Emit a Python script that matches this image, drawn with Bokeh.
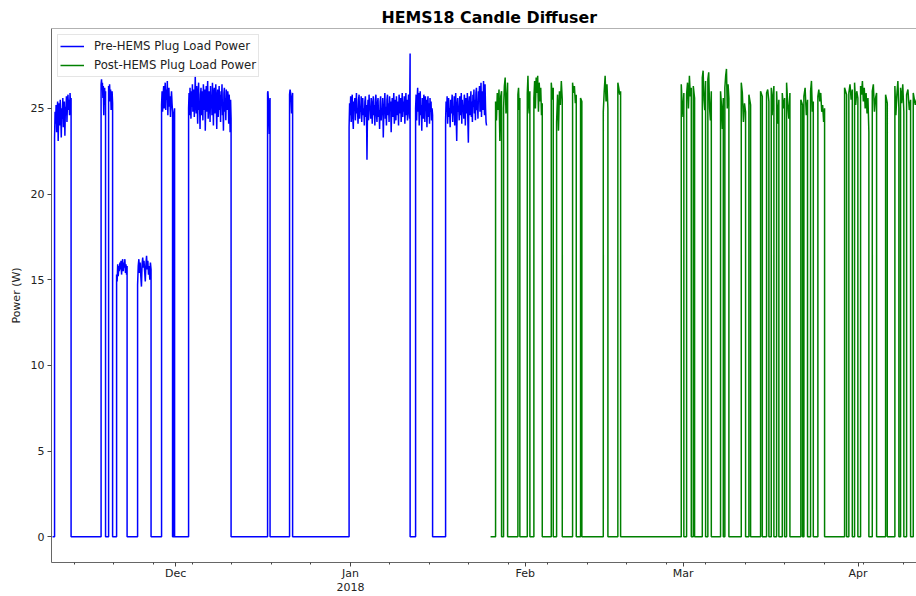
import pandas as pd
from bokeh.plotting import figure
from bokeh.models import FixedTicker, Range1d, Span
from bokeh.embed import file_html
from bokeh.resources import INLINE

# ---------------- data ----------------
pre_series_start = "2017-11-09 04:30"
pre_on_start = ["2017-11-09 13:00", "2017-11-17 19:00", "2017-11-19 03:00", "2017-11-20 13:00",
                "2017-11-24 06:20", "2017-11-28 12:20", "2017-11-30 15:30", "2017-12-03 07:20",
                "2017-12-17 07:30", "2017-12-21 05:00", "2017-12-31 18:20", "2018-01-12 13:20",
                "2018-01-17 21:00"]
pre_on_end = ["2017-11-12 11:20", "2017-11-18 14:00", "2017-11-19 20:00", "2017-11-22 09:40",
              "2017-11-26 15:40", "2017-11-30 11:10", "2017-11-30 19:45", "2017-12-10 20:10",
              "2017-12-17 18:00", "2017-12-21 18:00", "2018-01-11 14:00", "2018-01-15 13:40",
              "2018-01-25 03:20"]
pre_values = [
    [23.3, 24.8, 24.1, 25.2, 23.6, 24.9, 25.4, 23.1, 24.5, 25.3, 24.0, 25.5, 24.7, 23.3, 25.0,
     24.4, 25.6, 23.9, 24.8, 25.4, 23.4, 25.1, 24.6, 25.7, 24.2, 25.3, 25.8, 24.9, 25.5, 24.6,
     25.9, 25.2, 25.6],
    [26.4, 26.7, 26.1, 26.5, 25.6, 26.3, 24.6, 25.9, 26.2, 25.2, 26.0],
    [26.3, 26.0, 26.4, 25.4, 26.1, 24.9, 25.8, 26.0, 25.3],
    [15.3, 14.9, 15.9, 15.2, 15.8, 15.5, 16.0, 15.6, 16.1, 15.3, 15.9, 16.2, 15.5, 16.0, 15.7,
     16.2, 15.4, 15.9, 15.3, 15.8],
    [14.7, 15.8, 16.2, 15.4, 16.0, 15.2, 14.6, 15.9, 16.3, 15.7, 16.1, 15.5, 14.9, 15.9, 16.4,
     15.6, 16.1, 15.3, 15.8, 15.0, 16.0, 15.6],
    [25.2, 26.0, 24.8, 25.7, 26.3, 25.0, 25.9, 26.5, 24.9, 26.1, 25.5, 26.6, 24.6, 25.8, 26.2,
     25.1, 25.7, 24.5, 25.4, 26.0, 25.3, 24.8],
    [24.5, 25.0],
    [25.0, 25.9, 24.6, 26.2, 25.3, 24.4, 26.0, 25.1, 26.4, 24.8, 25.7, 26.1, 24.5, 25.6, 26.9,
     25.2, 24.7, 26.3, 25.5, 24.1, 25.9, 26.5, 24.9, 25.4, 23.8, 25.8, 26.2, 24.6, 26.0, 25.3,
     24.3, 26.4, 25.7, 24.9, 26.1, 23.7, 25.5, 26.3, 24.8, 25.9, 26.6, 24.4, 25.2, 26.0, 25.6,
     24.2, 26.3, 25.0, 25.8, 24.6, 26.5, 25.4, 24.0, 25.9, 26.2, 24.7, 25.6, 26.4, 25.1, 23.8,
     25.7, 26.1, 24.5, 25.3, 26.3, 24.9, 25.8, 24.2, 26.0, 25.5, 26.4, 24.6, 25.2, 23.7, 25.9,
     26.2, 24.8, 25.6, 24.3, 26.1, 25.4, 24.9, 26.0, 25.7, 24.1, 25.8, 25.2, 23.6, 25.5, 24.4],
    [25.9, 26.0, 25.6, 25.3, 24.2, 23.5, 25.0, 25.6],
    [25.8, 26.1, 25.9, 25.4, 24.7, 25.6, 25.9],
    [23.9, 25.3, 24.6, 25.7, 24.2, 25.1, 25.8, 24.5, 23.8, 25.4, 24.9, 25.6, 24.3, 25.2, 25.9,
     24.7, 25.0, 24.1, 25.5, 25.8, 24.4, 25.1, 24.8, 25.7, 24.2, 25.3, 25.6, 24.6, 25.0, 24.0,
     25.4, 25.7, 24.5, 25.2, 22.0, 24.8, 25.5, 24.3, 25.8, 24.9, 25.1, 24.4, 25.6, 25.3, 24.1,
     25.0, 25.7, 24.6, 25.2, 24.0, 25.5, 25.8, 24.7, 24.2, 25.3, 25.6, 24.5, 24.9, 23.8, 25.4,
     25.7, 24.3, 25.0, 24.6, 25.6, 23.3, 24.8, 25.2, 25.9, 24.4, 25.1, 24.0, 25.5, 25.8, 24.6,
     25.3, 24.2, 25.7, 24.9, 25.4, 23.6, 25.0, 25.6, 24.5, 25.2, 25.9, 24.1, 24.8, 25.5, 24.3,
     25.7, 25.0, 24.6, 25.4, 24.0, 25.8, 25.3, 24.7, 25.6, 24.2, 25.1, 25.9, 24.5, 25.4, 24.8,
     25.7, 24.1, 25.2, 25.9, 24.6, 25.5, 24.3, 25.0, 25.8, 24.9, 24.4, 28.2],
    [25.0, 25.8, 24.3, 25.5, 26.2, 24.8, 25.9, 24.0, 25.4, 26.0, 24.6, 25.2, 23.7, 25.6, 25.0,
     24.4, 25.8, 25.3, 24.2, 25.7, 24.9, 25.5, 23.9, 25.1, 25.7, 24.5, 25.3, 24.1, 25.6, 24.8,
     25.4, 24.3, 25.0, 24.6],
    [24.3, 25.4, 24.8, 25.7, 24.1, 25.2, 25.6, 24.5, 25.0, 23.9, 25.5, 24.7, 25.3, 25.8, 24.2,
     25.1, 24.6, 25.7, 24.0, 25.4, 25.9, 24.4, 23.1, 25.2, 25.6, 24.8, 25.0, 24.3, 25.7, 25.3,
     24.6, 25.9, 24.1, 25.5, 24.9, 25.2, 24.4, 25.8, 25.4, 24.0, 25.6, 25.1, 24.7, 25.9, 24.3,
     23.0, 25.3, 25.7, 24.6, 25.0, 26.0, 24.5, 25.4, 24.2, 25.8, 25.1, 26.1, 24.7, 25.5, 24.3,
     25.9, 26.2, 24.9, 25.3, 24.4, 26.0, 25.6, 26.3, 24.8, 25.2, 26.5, 24.5, 25.7, 26.0, 24.9,
     26.6, 25.3, 24.6, 26.4, 25.0, 24.2, 24.0],
]

post_series_start = "2018-01-25 20:20"
post_on_start = ["2018-01-26 17:40", "2018-01-28 03:40", "2018-01-30 16:40", "2018-02-01 08:40",
                 "2018-02-02 12:40", "2018-02-05 14:40", "2018-02-06 13:20", "2018-02-09 09:20",
                 "2018-02-10 19:20", "2018-02-14 20:00", "2018-02-17 10:00", "2018-02-28 15:50",
                 "2018-03-01 14:30", "2018-03-02 19:00", "2018-03-04 09:20", "2018-03-05 09:00",
                 "2018-03-07 15:00", "2018-03-08 09:20", "2018-03-11 07:10", "2018-03-12 15:40",
                 "2018-03-14 17:20", "2018-03-15 18:50", "2018-03-16 14:50", "2018-03-17 13:30",
                 "2018-03-18 13:40", "2018-03-19 08:00", "2018-03-21 20:40", "2018-03-22 09:40",
                 "2018-03-23 14:00", "2018-03-24 21:10", "2018-03-29 14:50", "2018-03-30 09:00",
                 "2018-03-31 09:20", "2018-04-01 10:50", "2018-04-03 12:40", "2018-04-05 21:20",
                 "2018-04-07 12:50", "2018-04-08 13:00", "2018-04-09 14:40", "2018-04-10 19:00"]
post_on_end = ["2018-01-27 19:10", "2018-01-28 20:50", "2018-01-31 01:00", "2018-02-01 19:40",
               "2018-02-04 00:20", "2018-02-05 23:10", "2018-02-07 13:30", "2018-02-10 01:00",
               "2018-02-11 00:50", "2018-02-15 15:40", "2018-02-17 21:40", "2018-03-01 02:50",
               "2018-03-02 10:30", "2018-03-03 00:30", "2018-03-04 23:20", "2018-03-05 23:40",
               "2018-03-08 02:40", "2018-03-09 02:30", "2018-03-12 01:30", "2018-03-12 22:50",
               "2018-03-15 00:40", "2018-03-16 04:40", "2018-03-17 02:00", "2018-03-17 23:10",
               "2018-03-18 23:30", "2018-03-19 22:10", "2018-03-22 03:50", "2018-03-23 01:10",
               "2018-03-24 01:40", "2018-03-26 01:40", "2018-03-29 23:20", "2018-03-30 23:40",
               "2018-03-31 23:20", "2018-04-02 22:10", "2018-04-04 07:00", "2018-04-06 04:30",
               "2018-04-08 05:50", "2018-04-09 03:00", "2018-04-10 07:40", "2018-04-11 12:00"]
post_values = [
    [25.4, 24.3, 25.9, 24.9, 26.1, 23.1, 25.7, 26.0],
    [25.0, 26.3, 26.8, 24.7, 25.6, 26.5],
    [25.8, 26.2, 24.9, 25.6],
    [25.9, 26.9, 25.2, 24.7, 26.0],
    [25.6, 26.6, 25.0, 26.8, 25.9, 26.9, 24.8, 26.5, 25.4, 26.2, 24.6, 25.3],
    [26.5, 26.0, 25.5, 26.2],
    [24.2, 25.8, 23.7, 26.0, 25.2, 26.6, 25.5],
    [26.5, 25.9, 26.3, 25.3, 25.8],
    [25.6, 25.4],
    [24.8, 26.0, 26.9, 25.4, 26.4, 25.0],
    [26.5, 26.2, 25.8, 26.0],
    [26.4, 25.3, 24.5, 25.9],
    [25.8, 26.5, 25.0, 26.9, 25.7, 26.2],
    [26.3, 25.6],
    [26.8, 27.2, 25.5, 24.9, 26.6],
    [26.7, 27.1, 25.0, 24.3, 26.0],
    [26.0, 25.2, 23.8, 25.6],
    [26.2, 26.9, 27.3, 25.0, 26.4, 25.6],
    [26.5, 25.9, 24.2, 25.3, 24.8],
    [25.8, 25.2],
    [26.0, 25.7],
    [25.9, 26.1, 25.4],
    [26.2, 24.6, 25.8, 26.3],
    [26.0, 24.1, 25.5],
    [25.9, 25.0, 25.6],
    [26.5, 25.3, 24.4, 25.9],
    [25.5, 25.2],
    [25.7, 26.2, 24.6, 25.5],
    [26.0, 26.6, 24.8, 25.4],
    [25.7, 26.1, 25.4, 25.9, 24.8, 25.2, 24.2, 25.0],
    [26.2, 25.8],
    [25.9, 26.4, 25.5, 26.1],
    [26.5, 25.2, 26.0, 25.6],
    [26.3, 25.8, 26.6, 25.4, 26.2, 25.0, 25.9, 24.7, 25.6, 23.6],
    [26.0, 26.4, 24.8, 25.6, 25.9],
    [25.8, 25.3],
    [26.3, 24.6, 25.8, 26.6, 25.0],
    [26.2, 25.3, 26.4, 24.8],
    [25.8, 26.1, 24.9, 25.5],
    [25.9, 25.2, 25.7],
]

x_tick_dates = ["2017-12-01", "2018-01-01", "2018-02-01", "2018-03-01", "2018-04-01"]
x_tick_labels = ["Dec", "Jan\n2018", "Feb", "Mar", "Apr"]
y_ticks = [0, 5, 10, 15, 20, 25]
labels = ["Pre-HEMS Plug Load Power", "Post-HEMS Plug Load Power"]
colors = ["#0000ff", "#008000"]


def build(series_start, starts, ends, values, end_on):
    t = [pd.Timestamp(series_start)]
    v = [0.0]
    for s, e, vals in zip(starts, ends, values):
        ts, te = pd.Timestamp(s), pd.Timestamp(e)
        n = len(vals)
        t.append(ts)
        v.append(0.0)
        for i, val in enumerate(vals):
            t.append(ts + (te - ts) * i / (n - 1))
            v.append(val)
        t.append(te)
        v.append(0.0)
    if end_on:
        t.pop()
        v.pop()
    return t, v


pre_t, pre_v = build(pre_series_start, pre_on_start, pre_on_end, pre_values, True)
post_t, post_v = build(post_series_start, post_on_start, post_on_end, post_values, True)

FONT = "DejaVu Sans"
ms = lambda s: pd.Timestamp(s).value // 10**6

p = figure(width=916, height=596, x_axis_type="datetime", output_backend="svg",
           toolbar_location=None,
           x_range=Range1d(pd.Timestamp("2017-11-09 00:00"), pd.Timestamp("2018-04-11 08:50")),
           y_range=Range1d(-1.5, 29.66),
           min_border_left=51, min_border_right=0, min_border_top=28, min_border_bottom=0)

p.line(pre_t, pre_v, color=colors[0], line_width=1.5, legend_label=labels[0])
p.line(post_t, post_v, color=colors[1], line_width=1.5, legend_label=labels[1])

p.title.text = "HEMS18 Candle Diffuser"
p.title.text_font = FONT
p.title.text_font_size = "15.8px"
p.title.text_font_style = "bold"
p.title.text_color = "black"
p.title.align = "left"
p.title.offset = 330
p.title.standoff = 3

p.grid.visible = False
p.outline_line_color = None
p.add_layout(Span(location=29.66, dimension="width", line_color="#666666", line_width=1))

xt = FixedTicker(ticks=[ms(d) for d in x_tick_dates],
                 minor_ticks=[ms(d) for d in pd.date_range("2017-11-13", "2018-04-09", freq="7D")])
p.xaxis.ticker = xt
p.xaxis.major_label_overrides = {ms(d): lab for d, lab in zip(x_tick_dates, x_tick_labels)}
p.yaxis.ticker = FixedTicker(ticks=y_ticks)
p.yaxis.axis_label = "Power (W)"

for ax in (p.xaxis[0], p.yaxis[0]):
    ax.axis_line_color = "#666666"
    ax.major_tick_line_color = "#444444"
    ax.minor_tick_line_color = "#444444"
    ax.major_tick_out = 4
    ax.major_tick_in = 0
    ax.minor_tick_out = 2
    ax.minor_tick_in = 0
    ax.major_label_text_font = FONT
    ax.major_label_text_font_size = "11px"
    ax.major_label_text_color = "#222222"
    ax.major_label_standoff = 3
    ax.axis_label_text_font = FONT
    ax.axis_label_text_font_size = "11px"
    ax.axis_label_text_font_style = "normal"
    ax.axis_label_text_color = "#222222"
p.xaxis.major_label_standoff = 0
p.xaxis.major_label_text_line_height = 1.1
p.yaxis.minor_tick_line_color = None
p.yaxis.axis_label_standoff = 5

lg = p.legend[0]
lg.location = "top_left"
lg.margin = 6
lg.padding = 2
lg.spacing = 1
lg.label_height = 18
lg.glyph_height = 18
lg.glyph_width = 24
lg.label_standoff = 10
lg.label_text_font = FONT
lg.label_text_font_size = "11.7px"
lg.label_text_color = "#222222"
lg.border_line_color = "#cccccc"
lg.border_line_width = 1
lg.background_fill_alpha = 0.8

open("out.html", "w").write(file_html(p, INLINE))
